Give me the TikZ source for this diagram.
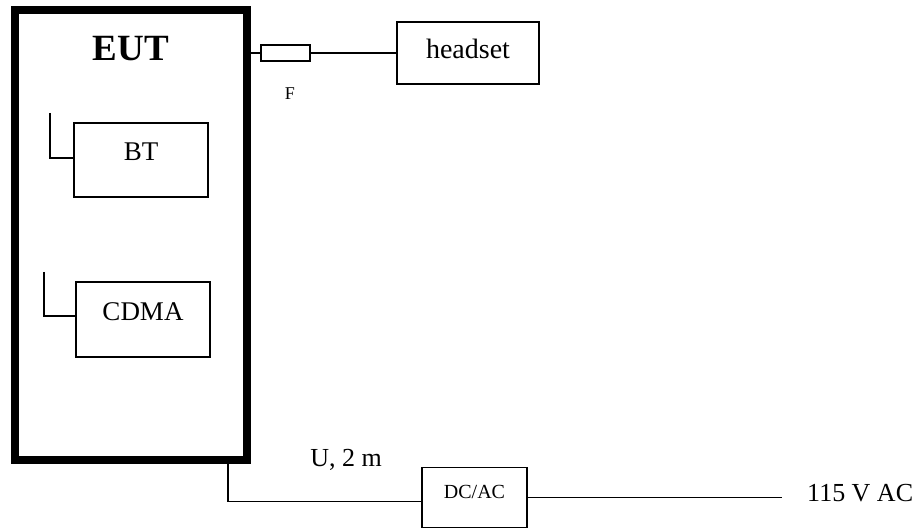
\documentclass[tikz,border=0pt]{standalone}
\usepackage{fontspec}
\setmainfont{Liberation Serif}
\usetikzlibrary{positioning}

\begin{document}
\begin{tikzpicture}[
    x=1pt, y=-1pt,
    unit/.style={rectangle, draw=black, line width=8pt, inner sep=0pt, minimum width=232pt, minimum height=449.5pt},
    module/.style={rectangle, draw=black, line width=1.2pt, inner sep=0pt, font=\fontsize{27}{27}\selectfont},
    wire/.style={line width=1.2pt},
    caption/.style={inner sep=0pt, anchor=base}
]
\useasboundingbox (0,0) rectangle (923,529);

\node[unit] (eut) at (131,234.75) {};
\node[caption, font=\bfseries\fontsize{37}{37}\selectfont] (euttitle) at (131,61) {EUT};

\node[module, minimum width=134pt, minimum height=74pt, text depth=17pt] (bt) at (141,160) {BT};
\node[module, minimum width=134pt, minimum height=75pt, text depth=15.5pt] (cdma) at (143,319.5) {CDMA};
\coordinate (btleg) at (50,113);
\coordinate (cdmaleg) at (44,272);
\draw[wire] (btleg) |- ([yshift=2pt]bt.west);
\draw[wire] (cdmaleg) |- ([yshift=3.5pt]cdma.west);

\node[module, minimum width=49pt, minimum height=16pt] (fuse) at (285.5,53) {};
\node[caption, font=\fontsize{18}{18}\selectfont] (flabel) at (290,100) {F};
\node[module, font=\fontsize{28}{28}\selectfont, minimum width=142pt, minimum height=62pt, text depth=8.5pt] (headset) at (468,53) {headset};
\draw[wire] (eut.east |- fuse) -- (fuse.west);
\draw[wire] (fuse) -- (headset);

\node[module, font=\fontsize{20}{20}\selectfont, minimum width=105pt, minimum height=60pt, text depth=12pt] (dcac) at (474.5,497.7) {DC/AC};
\node[caption, font=\fontsize{26}{26}\selectfont] (cable) at (346,466.5) {U, 2 m};
\draw[wire] ([xshift=-23pt]eut.south east) |- ([yshift=-4pt]dcac.west);

\node[caption, anchor=base west, font=\fontsize{26}{26}\selectfont] (mains) at (807,501.7) {115 V AC};
\coordinate (mainsend) at (782,497.7);
\draw[wire] (dcac.east) -- (mainsend);
\end{tikzpicture}
\end{document}
